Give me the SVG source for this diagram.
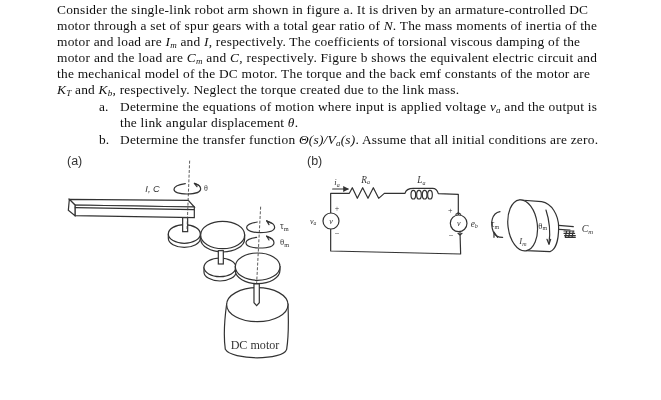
<svg xmlns="http://www.w3.org/2000/svg" width="661" height="400" viewBox="0 0 661 400">
<defs>
<filter id="soft" x="-5%" y="-5%" width="110%" height="110%"><feGaussianBlur stdDeviation="0.35"/></filter>
<marker id="ah" markerWidth="5" markerHeight="5" refX="4" refY="2.5" orient="auto"><path d="M0 0L5 2.5L0 5z" fill="#333"/></marker>
</defs>
<style>
.t{font-family:"Liberation Serif",serif;font-size:13.4px;fill:#111}
.i{font-style:italic}
.s{font-size:9px}
.l{fill:#fff;stroke:#333;stroke-width:3.6}
.w{fill:none;stroke:#333;stroke-width:3.6;stroke-linejoin:round;stroke-linecap:round}
.d{fill:none;stroke:#444;stroke-width:2.6;stroke-dasharray:9 5}
.sans{font-family:"Liberation Sans",sans-serif;fill:#333}
.z{font-family:"Liberation Serif",serif;fill:#333}
</style>
<rect width="661" height="400" fill="#fff"/>
<g id="problem-text" filter="url(#soft)">
<text class="t" x="57" y="14" textLength="531" lengthAdjust="spacing">Consider the single-link robot arm shown in figure a. It is driven by an armature-controlled DC</text>
<text class="t" x="57" y="30" textLength="540" lengthAdjust="spacing">motor through a set of spur gears with a total gear ratio of <tspan class="i">N</tspan>. The mass moments of inertia of the</text>
<text class="t" x="57" y="46" textLength="523" lengthAdjust="spacing">motor and load are <tspan class="i">I</tspan><tspan class="i s" dy="2">m</tspan><tspan dy="-2"> and </tspan><tspan class="i">I</tspan>, respectively. The coefficients of torsional viscous damping of the</text>
<text class="t" x="57" y="62" textLength="540" lengthAdjust="spacing">motor and the load are <tspan class="i">C</tspan><tspan class="i s" dy="2">m</tspan><tspan dy="-2"> and </tspan><tspan class="i">C</tspan>, respectively.  Figure b shows the equivalent electric circuit and</text>
<text class="t" x="57" y="78" textLength="533" lengthAdjust="spacing">the mechanical model of the DC motor. The torque and the back emf constants of the motor are</text>
<text class="t" x="57" y="94" textLength="402" lengthAdjust="spacing"><tspan class="i">K</tspan><tspan class="i s" dy="2">T</tspan><tspan dy="-2"> and </tspan><tspan class="i">K</tspan><tspan class="i s" dy="2">b</tspan><tspan dy="-2">, respectively. Neglect the torque created due to the link mass.</tspan></text>
<text class="t" x="99" y="111">a.</text>
<text class="t" x="120" y="111" textLength="477" lengthAdjust="spacing">Determine the equations of motion where input is applied voltage <tspan class="i">v</tspan><tspan class="i s" dy="2">a</tspan><tspan dy="-2"> and the output is</tspan></text>
<text class="t" x="120" y="127" textLength="178" lengthAdjust="spacing">the link angular displacement <tspan class="i">θ</tspan>.</text>
<text class="t" x="99" y="144">b.</text>
<text class="t" x="120" y="144" textLength="478" lengthAdjust="spacing">Determine the transfer function <tspan class="i">Θ(s)/V</tspan><tspan class="i s" dy="2">a</tspan><tspan class="i" dy="-2">(s)</tspan>. Assume that all initial conditions are zero.</text>
<text x="67" y="165" font-size="12.5" class="sans">(a)</text>
<text x="307" y="165" font-size="12.5" class="sans">(b)</text>
</g>
<g transform="translate(50 150) scale(.3333)" filter="url(#soft)">
<g id="robot-link">
<path class="l" d="M58 148L415 151L433 171L75 165z"/>
<path class="l" d="M75 165L433 171L433 203L75 197z"/>
<path class="l" d="M58 148L75 165L75 197L55 181z"/>
<path class="w" d="M76 173L432 179"/>
</g>
<g id="gear-1">
<path class="l" d="M355 253V265A48 27 0 0 0 451 265V253z"/>
<ellipse class="l" cx="403" cy="252" rx="48" ry="28"/>
<rect class="l" x="398" y="203" width="15" height="42"/>
</g>
<g id="gear-2">
<path class="l" d="M452 255V266A66 40 0 0 0 584 266V255z"/>
<ellipse class="l" cx="518" cy="255" rx="66" ry="41"/>
</g>
<g id="gear-3">
<path class="l" d="M462 352V366A48 27 0 0 0 558 366V352z"/>
<ellipse class="l" cx="510" cy="352" rx="48" ry="28"/>
<rect class="l" x="505" y="302" width="15" height="40"/>
</g>
<g id="motor">
<path class="l" d="M530 462C522 520 522 570 526 598C545 632 700 632 710 598C716 560 716 510 714 462z"/>
<ellipse class="l" cx="622" cy="464" rx="92" ry="51"/>
<text class="z" x="542" y="596" font-size="37" textLength="146" lengthAdjust="spacingAndGlyphs">DC motor</text>
</g>
<g id="gear-4">
<path class="l" d="M556 350V361A67 40 0 0 0 690 361V350z"/>
<ellipse class="l" cx="623" cy="350" rx="67" ry="41"/>
<path class="l" d="M612 402H628V458L620 467L612 458z"/>
</g>
<g id="connectors">
<path class="d" d="M419 32L411 240"/>
<path class="d" d="M632 170L620 400"/>
<path class="w" d="M406 101C385 104 372 110 372 118C372 128 392 132 412 132C435 132 452 126 452 116C452 109 446 104 434 100"/>
<path class="w" d="M446 106L433 100L441 110" stroke-width="5"/>
<path class="w" d="M622 216C602 219 590 224 590 232C590 243 610 248 630 248C655 248 674 243 674 232C674 224 666 217 650 213"/>
<path class="w" d="M664 220L650 212L657 224" stroke-width="5"/>
<path class="w" d="M620 262C600 265 588 270 588 278C588 289 608 294 628 294C653 294 672 289 672 278C672 270 664 263 650 259"/>
<path class="w" d="M664 266L650 258L657 270" stroke-width="5"/>
</g>
<g id="labels-a">
<text class="sans" x="286" y="127" font-size="28" font-style="italic">I, C</text>
<text class="z" x="462" y="123" font-size="24">θ</text>
<text class="z" x="690" y="238" font-size="28">τ<tspan font-size="19" dy="4">m</tspan></text>
<text class="z" x="690" y="286" font-size="26">θ<tspan font-size="19" dy="5">m</tspan></text>
</g>
</g>
<g transform="translate(320 150) scale(.3333)" filter="url(#soft)">
<g id="circuit-wires">
<path class="w" d="M32 190V130H88L97 113L112 145L128 113L144 145L160 113L176 145L193 130H255C258 118 270 115 280 115H338C348 115 352 120 355 131L415 133V195"/>
<ellipse class="w" cx="280" cy="134" rx="7" ry="13"/>
<ellipse class="w" cx="297" cy="134" rx="7" ry="13"/>
<ellipse class="w" cx="314" cy="134" rx="7" ry="13"/>
<ellipse class="w" cx="330" cy="134" rx="7" ry="13"/>
<path class="w" d="M32 238V303L422 312L420 245"/>
<path class="w" d="M38 117H84" marker-end="url(#ah)"/>
</g>
<g id="source">
<circle class="l" cx="33" cy="213" r="24"/>
<text class="z" x="33" y="221" font-size="24" font-style="italic" text-anchor="middle">v</text>
</g>
<g id="back-emf">
<path class="w" d="M408 193L415 188L422 193M414 250L420 255L426 250" stroke-width="5"/>
<circle class="l" cx="416" cy="220" r="25"/>
<text class="z" x="416" y="228" font-size="24" font-style="italic" text-anchor="middle">v</text>
</g>
<g id="inertia">
<path class="l" d="M600 150L665 155C695 160 716 195 716 232C716 275 705 300 690 305L620 302z"/>
<ellipse class="l" cx="608" cy="226" rx="44" ry="77" transform="rotate(-7 608 226)"/>
<path class="w" d="M716 226L760 230M716 238L750 240"/>
<path class="w" d="M732 243H762M732 250H764M734 257H766M736 262H766M740 243L736 262M750 243L746 262M760 243L756 262" stroke-width="2.2"/>
<path class="w" d="M678 180C688 210 692 245 687 281"/>
<path class="w" d="M681 268L687 283L692 268" stroke-width="4"/>
<path class="w" d="M540 185C515 190 510 220 520 245C525 258 535 262 548 262"/>
<path class="w" d="M533 262L522 246L522 262" stroke-width="4"/>
</g>
<g id="labels-b">
<text class="z" x="43" y="106" font-size="26" font-style="italic">i<tspan font-size="18" dy="4">a</tspan></text>
<text class="z" x="124" y="98" font-size="28" font-style="italic">R<tspan font-size="18" dy="5">a</tspan></text>
<text class="z" x="292" y="100" font-size="28" font-style="italic">L<tspan font-size="18" dy="5">a</tspan></text>
<text class="z" x="44" y="184" font-size="24">+</text>
<text class="z" x="44" y="258" font-size="26">−</text>
<text class="z" x="384" y="189" font-size="24">+</text>
<text class="z" x="386" y="264" font-size="26">−</text>
<text class="z" x="452" y="230" font-size="28" font-style="italic">e<tspan font-size="18" dy="4">b</tspan></text>
<text class="z" x="512" y="232" font-size="28">τ<tspan font-size="18" dy="4">m</tspan></text>
<text class="z" x="655" y="236" font-size="26">θ<tspan font-size="18" dy="5">m</tspan></text>
<text class="z" x="598" y="282" font-size="26" font-style="italic">I<tspan font-size="18" dy="5">m</tspan></text>
<text class="z" x="785" y="246" font-size="30" font-style="italic">C<tspan font-size="20" dy="5">m</tspan></text>
<text class="z" x="-30" y="221" font-size="24" font-style="italic">v<tspan font-size="17" dy="4">a</tspan></text>
</g>
</g>
</svg>
